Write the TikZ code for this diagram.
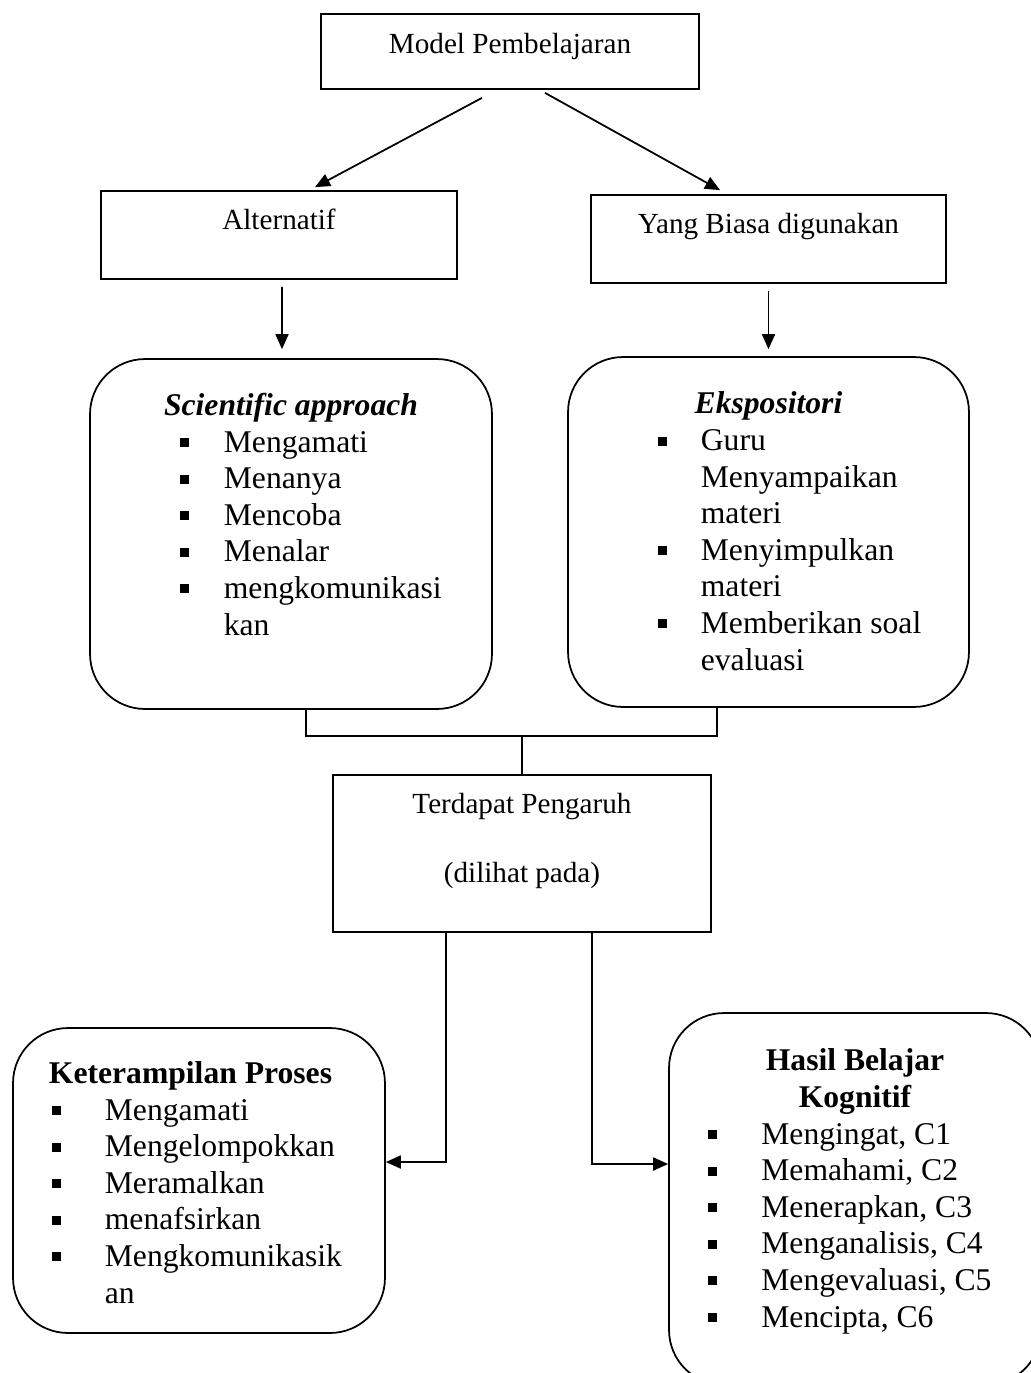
\documentclass[tikz,border=0pt]{standalone}
\usepackage{fontspec}
\setmainfont{Liberation Serif}
\usetikzlibrary{positioning,arrows.meta}

\newcommand{\boxfont}{\fontsize{16.6pt}{19pt}\selectfont}
\newcommand{\listfont}{\fontsize{18pt}{20.8pt}\selectfont}
\newcommand{\blt}[1][0.88cm]{\makebox[#1][l]{\rule[0.1cm]{0.18cm}{0.18cm}}}

\begin{document}
\begin{tikzpicture}[x=0.02cm,y=-0.02cm,line width=1pt,
		box/.style={draw,inner sep=0pt,font=\boxfont,anchor=base},
		softbox/.style={draw,inner sep=0pt,rounded corners=1.1cm},
		head/.style={inner sep=0pt,anchor=base,align=center,font=\listfont\bfseries},
		items/.style={inner sep=0pt,anchor=base west,align=left,font=\listfont},
		arr/.style={-{Triangle[length=0.3cm,width=0.26cm]}}]
		
		\useasboundingbox (0,0) rectangle (1031,1373);
		\clip (0,0) rectangle (1031,1373);
		
		% Top boxes
		\node[box,
		minimum width=7.56cm,
		text height=0.78cm,
		text depth=0.72cm] (model) at (510,53) {Model Pembelajaran};
		
		\node[box,
		minimum width=7.12cm,
		text height=0.76cm,
		text depth=1.0cm] (alt) at (279,229) {Alternatif};
		
		\node[box,
		minimum width=7.1cm,
		text height=0.76cm,
		text depth=1.0cm] (yang) at (768.5,233) {Yang Biasa digunakan};
		
		% Rounded boxes (multi-line texts sit on their last baseline)
		\node[softbox,
		minimum width=8.04cm,
		minimum height=7cm] (sci) at (291,534) {};
		\node[head,font=\listfont\bfseries\itshape] (scihead) at (291,415) {Scientific approach};
		\node[items] (scilist) at (179,635) {\blt Mengamati\\ \blt Menanya\\ \blt Mencoba\\ \blt Menalar\\ \blt mengkomunikasi\\ \hspace*{0.88cm}kan};
		
		\node[softbox,
		minimum width=8.02cm,
		minimum height=7cm] (eks) at (768.5,532) {};
		\node[head,font=\listfont\bfseries\itshape] (ekshead) at (768.5,413) {Ekspositori};
		\node[items] (ekslist) at (657,670) {\blt[0.86cm]Guru\\ \hspace*{0.86cm}Menyampaikan\\ \hspace*{0.86cm}materi\\ \blt[0.86cm]Menyimpulkan\\ \hspace*{0.86cm}materi\\ \blt[0.86cm]Memberikan soal\\ \hspace*{0.86cm}evaluasi};
		
		% Middle box
		\node[box,
		align=center,
		minimum width=7.56cm,
		text height=2.14cm,
		text depth=1.0cm] (terd) at (522,882) {Terdapat Pengaruh\\[0.71cm](dilihat pada)};
		
		% Bottom boxes
		\node[softbox,
		minimum width=7.44cm,
		minimum height=6.1cm] (ket) at (199,1180.5) {};
		\node[head] (kethead) at (190.5,1083) {Keterampilan Proses};
		\node[items] (ketlist) at (51,1303) {\blt[1.06cm]Mengamati\\ \blt[1.06cm]Mengelompokkan\\ \blt[1.06cm]Meramalkan\\ \blt[1.06cm]menafsirkan\\ \blt[1.06cm]Mengkomunikasik\\ \hspace*{1.06cm}an};
		
		\node[softbox,
		minimum width=7.44cm,
		minimum height=7.44cm] (has) at (855,1199) {};
		\node[head] (hashead) at (855,1107) {Hasil Belajar\\Kognitif};
		\node[items] (haslist) at (707,1327) {\blt[1.07cm]Mengingat, C1\\ \blt[1.07cm]Memahami, C2\\ \blt[1.07cm]Menerapkan, C3\\ \blt[1.07cm]Menganalisis, C4\\ \blt[1.07cm]Mengevaluasi, C5\\ \blt[1.07cm]Mencipta, C6};
		
		% Arrows
		\draw[arr] ([xshift=-0.56cm,yshift=-0.16cm]model.south) -- ([xshift=0.72cm,yshift=0.06cm]alt.north);
		\draw[arr] ([xshift=0.7cm,yshift=-0.06cm]model.south) -- ([xshift=-0.97cm,yshift=0.08cm]yang.north);
		
		\draw[arr] ([xshift=0.06cm,yshift=-0.14cm]alt.south) -- ([xshift=-0.18cm,yshift=0.18cm]sci.north);
		\draw[arr] ([yshift=-0.14cm]yang.south) -- ([yshift=0.14cm]eks.north);
		
		\coordinate[above=0.76cm of terd.north] (join);
		\draw ([xshift=0.3cm]sci.south) |- (join) -| ([xshift=-1.03cm]eks.south);
		\draw (join) -- (terd);
		
		\draw[arr] ([xshift=-1.52cm]terd.south) |- ([yshift=0.37cm]ket.east);
		\draw[arr] ([xshift=1.4cm]terd.south) |- ([yshift=0.7cm]has.west);
		
\end{tikzpicture}
\end{document}
